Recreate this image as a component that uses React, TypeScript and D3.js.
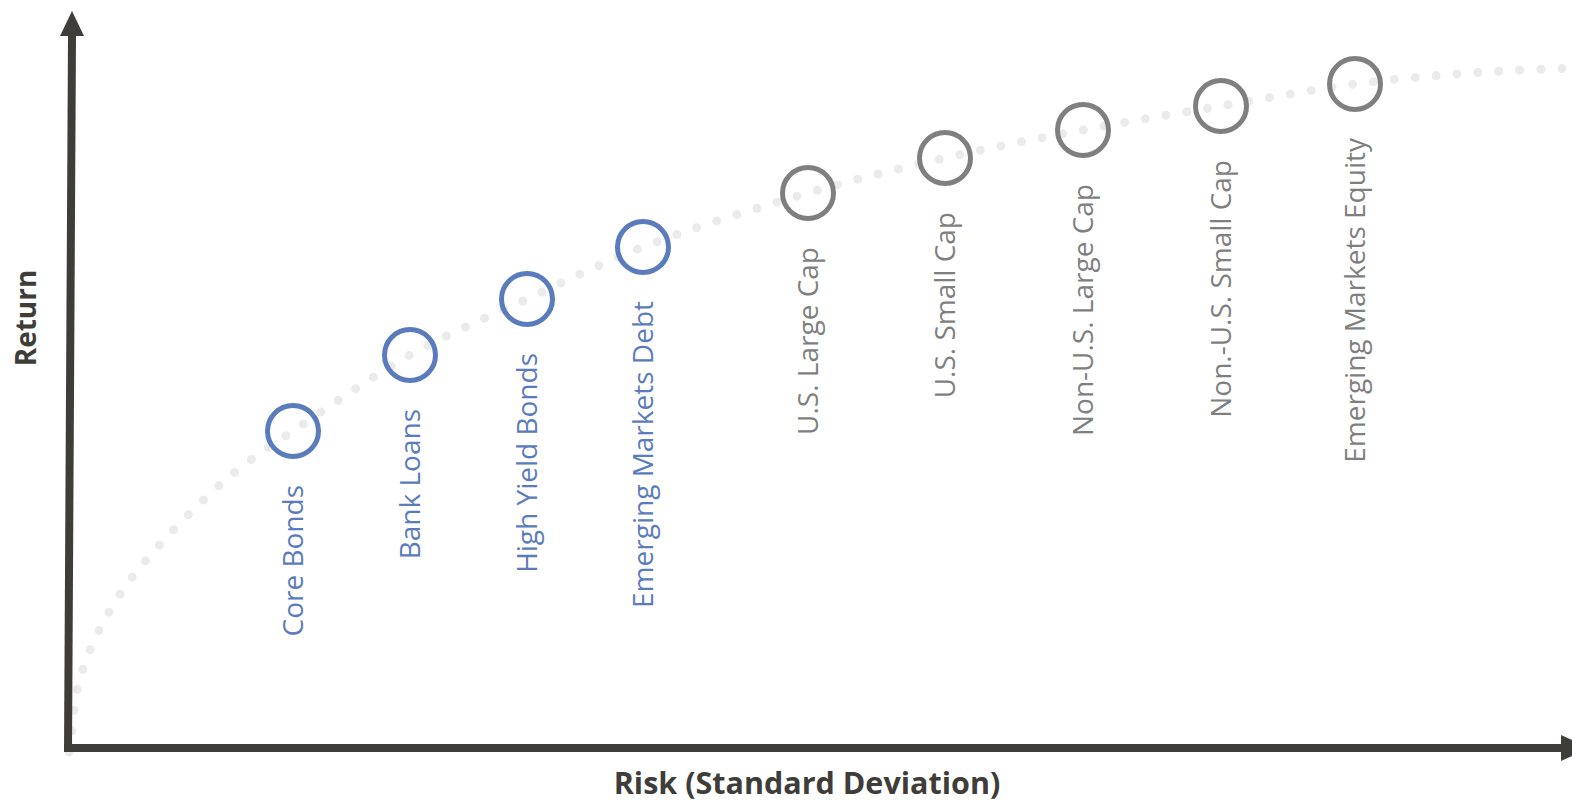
import React from 'react';
import * as d3 from 'd3';

// asset classes plotted on the frontier
const assetNames = [
  'Core Bonds',
  'Bank Loans',
  'High Yield Bonds',
  'Emerging Markets Debt',
  'U.S. Large Cap',
  'U.S. Small Cap',
  'Non-U.S. Large Cap',
  'Non.-U.S. Small Cap',
  'Emerging Markets Equity',
];
const assetRisk = [4.5, 6.84, 9.18, 11.5, 14.8, 17.54, 20.3, 23.06, 25.74];
const assetReturn = [6.34, 7.86, 8.98, 10.02, 11.1, 11.8, 12.36, 12.84, 13.28];
const assetGroup = ['fixed', 'fixed', 'fixed', 'fixed', 'equity', 'equity', 'equity', 'equity', 'equity'];

// dotted frontier line
const frontierRisk = [0.02, 0.08, 0.18, 0.44, 0.8, 1.24, 1.76, 2.32, 2.9, 3.52,
  4.5, 6.84, 9.18, 11.5, 14.8, 17.54, 20.3, 23.06, 25.74, 27.5, 28.7, 30.2];
const frontierReturn = [-0.08, 0.36, 1.16, 1.96, 2.68, 3.36, 3.98, 4.58, 5.14, 5.66,
  6.34, 7.86, 8.98, 10.02, 11.1, 11.8, 12.36, 12.84, 13.28, 13.46, 13.54, 13.6];

const W = 1572;
const H = 803;
const AXIS = '#3e3d39';
const BLUE = '#5a7cbd';
const GREY = '#7f7f7f';

export default function App() {
  const x = d3.scaleLinear().domain([0, 30]).range([68, 1568]);
  const y = d3.scaleLinear().domain([0, 14]).range([748, 48]);

  const frontier = frontierRisk.map((r, i) => [r, frontierReturn[i]] as [number, number]);
  const line = d3.line<[number, number]>()
    .x(d => x(d[0]))
    .y(d => y(d[1]))
    .curve(d3.curveCatmullRom.alpha(0.5));

  const x0 = x(0);
  const y0 = y(0);

  return (
    <svg width={W} height={H} style={{ position: 'absolute', left: 0, top: 0, background: '#fff' }}
      fontFamily="'Open Sans', sans-serif">
      <path d={line(frontier) || ''} fill="none" stroke="#ebebeb" strokeWidth={9}
        strokeLinecap="round" strokeDasharray="0 21" />

      {/* axes */}
      <line x1={x0} y1={y0 + 4} x2={x0 + 4} y2={36} stroke={AXIS} strokeWidth={8} />
      <path d={`M${x0 - 8},36 L${x0 + 16},36 L${x0 + 4},11 Z`} fill={AXIS} />
      <line x1={x0 - 4} y1={y0} x2={1562} y2={y0} stroke={AXIS} strokeWidth={8} />
      <path d={`M1561,${y0 - 13} L1561,${y0 + 13} L1590,${y0} Z`} fill={AXIS} />

      {assetNames.map((name, i) => {
        const cx = x(assetRisk[i]);
        const cy = y(assetReturn[i]);
        const c = assetGroup[i] === 'fixed' ? BLUE : GREY;
        return (
          <g key={name}>
            <circle cx={cx} cy={cy} r={25.5} fill="none" stroke={c} strokeWidth={5} />
            <text transform={`translate(${cx},${cy + 54}) rotate(-90)`} textAnchor="end"
              dy="0.35em" fontSize={28} fill={c}>{name}</text>
          </g>
        );
      })}

      <text transform="translate(36,318) rotate(-90)" textAnchor="middle" fontSize={28}
        fontWeight="bold" fill={AXIS}>Return</text>
      <text x={807} y={794} textAnchor="middle" fontSize={30.5} fontWeight="bold"
        fill={AXIS}>Risk (Standard Deviation)</text>
    </svg>
  );
}
